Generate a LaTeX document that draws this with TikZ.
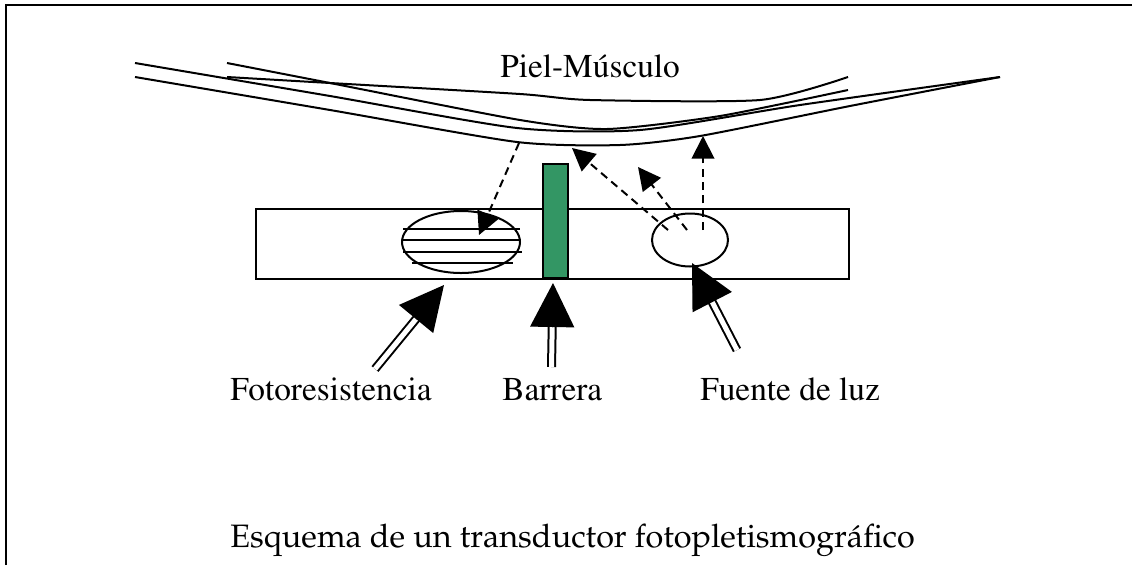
\documentclass[tikz,border=0pt]{standalone}
\usepackage[T1]{fontenc}
\usetikzlibrary{arrows.meta,calc,shapes.geometric}
\definecolor{barrier}{RGB}{51,150,100}
\newcommand\serifT{\fontfamily{ptm}\selectfont}
\newcommand\serifP{\fontfamily{ppl}\selectfont}

\begin{document}
\begin{tikzpicture}[x=0.75pt,y=-0.75pt,
  outline/.style={line width=1.5pt},
  tissue/.style={line width=1.5pt, line join=round},
  ray/.style={line width=1.5pt, dash pattern=on 6pt off 4pt, -{Triangle[length=17pt,width=17pt]}},
  shaft/.style={double, double distance=3.75pt, line width=1.5pt},
  head/.style={-{Triangle[length=33pt,width=33pt]}, line width=1pt},
  lbl/.style={inner sep=0pt, anchor=base west, font=\serifT\fontsize{25}{30}\selectfont},
]
\useasboundingbox (0,0) rectangle (1132,565);

% frame
\draw[line width=1.5pt] (6,565) -- (6,4.5) -- (1132,4.5);

% skin and muscle layers
\draw[tissue] plot[smooth, tension=0.4] coordinates {(135,63) (330,96) (517,128) (640,130) (800,105) (1000,77)};
\draw[tissue] plot[smooth, tension=0.4] coordinates {(135,77) (330,110) (517,142) (620,145) (700,136) (850,106) (1000,77)};
\draw[tissue] plot[smooth, tension=0.4] coordinates {(227,63) (330,83) (520,120) (607,129) (720,116) (848,90)};
\draw[tissue] plot[smooth, tension=0.4] coordinates {(227,77) (330,83) (520,94) (590,100) (760,100) (848,77)};
\node[lbl] (skin) at (500,77) {Piel-M\'usculo};

% probe body, sensor, barrier and source
\node[draw, outline, rectangle, inner sep=0pt, minimum width=444.75pt, minimum height=52.5pt] (body) at (552.5,244) {};
\node[draw, outline, ellipse, inner sep=0pt, minimum width=88.5pt, minimum height=46.5pt] (ldr) at (461,242) {};
\foreach \yy/\xa/\xb in {229/403/520, 240/402/521, 252/403/522, 263/412/513}
  \draw[outline] (\xa,\yy) -- (\xb,\yy);
\node[draw, outline, ellipse, inner sep=0pt, minimum width=57pt, minimum height=39.75pt] (led) at (690,240) {};
\node[draw, outline, fill=barrier, rectangle, inner sep=0pt, minimum width=18.75pt, minimum height=85.5pt] (bar) at (555.5,221) {};

% light paths
\coordinate (r1a) at (519,143); \coordinate (r1b) at (479,235);
\coordinate (r2a) at (668,230); \coordinate (r2b) at (572,148);
\coordinate (r3a) at (687,230); \coordinate (r3b) at (638,167);
\coordinate (r4a) at (703,230); \coordinate (r4b) at (703,136);
\draw[ray] (r1a) -- (r1b);
\draw[ray] (r2a) -- (r2b);
\draw[ray] (r3a) -- (r3b);
\draw[ray] (r4a) -- (r4b);

% labels and pointers
\node[lbl] (tldr) at (230,400) {Fotoresistencia};
\node[lbl] (tbar) at (502,400) {Barrera};
\node[lbl] (tled) at (700,400) {Fuente de luz};

\coordinate (p1tail) at (375,369); \coordinate (p1tip) at (444,285);
\coordinate (p2tail) at (551.5,367); \coordinate (p2tip) at (553,283);
\coordinate (p3tail) at (737,350); \coordinate (p3tip) at (692,263);
\foreach \p in {p1,p2,p3}{
  \draw[shaft] (\p tail) -- ($(\p tip)!30pt!(\p tail)$);
  \draw[head] ($(\p tip)!33pt!(\p tail)$) -- (\p tip);
}

% caption
\node[inner sep=0pt, anchor=base west, font=\serifP\fontsize{24.3}{29}\selectfont] (cap) at (230,547)
  {Esquema de un transductor fotopletismogr\'afico};
\end{tikzpicture}
\end{document}
